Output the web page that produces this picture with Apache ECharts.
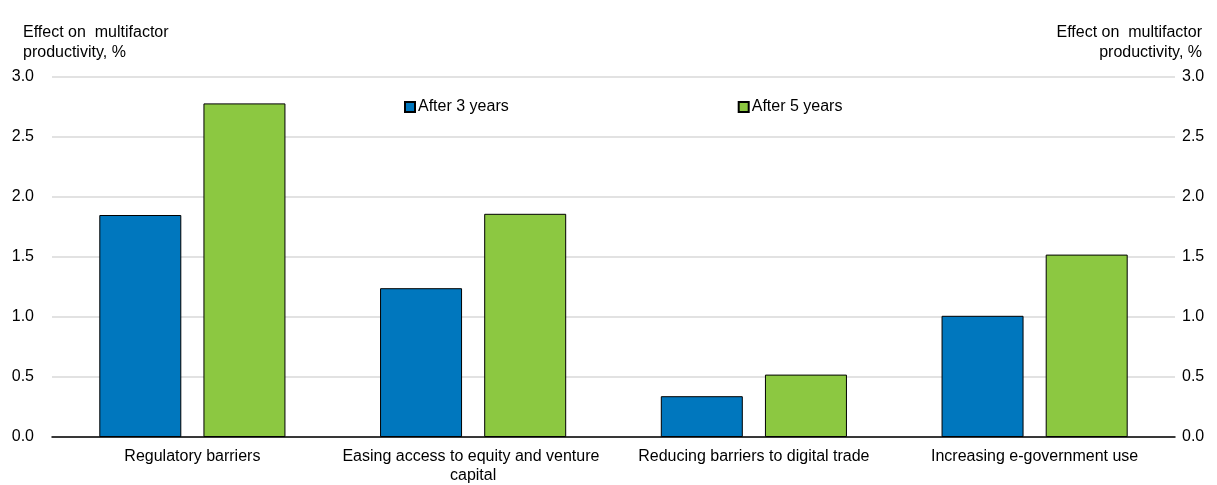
<!DOCTYPE html>
<html>
<head>
<meta charset="utf-8">
<script src="https://cdn.jsdelivr.net/npm/echarts@6/dist/echarts.min.js"></script>
<style>html,body{margin:0;padding:0;background:#fff}#c{width:1217px;height:485px}</style>
</head>
<body>
<div id="c"></div>
<script>
var categories = ['Regulatory barriers', 'Easing access to equity and venture capital', 'Reducing barriers to digital trade', 'Increasing e-government use'];
var after3 = [1.85, 1.24, 0.34, 1.01];
var after5 = [2.78, 1.86, 0.52, 1.52];
var seriesNames = ['After 3 years', 'After 5 years'];
var axisTitleLines = ['Effect on  multifactor', 'productivity, %'];
var FONT = '"Liberation Sans", Arial, sans-serif';

var chart = echarts.init(document.getElementById('c'), null, {renderer: 'canvas'});
var yAxisBase = {
  type: 'value', min: 0, max: 3, interval: 0.5,
  axisLine: {show: false}, axisTick: {show: false},
  splitLine: {show: true, lineStyle: {color: '#d9d9d9', width: 1.5}},
  axisLabel: {color: '#000', fontSize: 16, fontFamily: FONT, formatter: function (v) { return v.toFixed(1); }}
};
var graphics = axisTitleLines.map(function (line, i) {
  return {type: 'text', right: 15, top: 25 + i * 20,
    style: {text: line, fontSize: 16, fontFamily: FONT, fill: '#000'}};
});
chart.setOption({
  animation: false,
  backgroundColor: '#fff',
  textStyle: {fontFamily: FONT},
  title: [
    {text: axisTitleLines.join('\n'), left: 18, top: 18, textStyle: {fontSize: 16, fontWeight: 'normal', color: '#000', fontFamily: FONT, lineHeight: 20}}
  ],
  graphic: graphics,
  legend: {
    left: 399, top: 94, itemWidth: 10, itemHeight: 10, itemGap: 229,
    icon: 'rect',
    textStyle: {fontSize: 16, color: '#000', fontFamily: FONT, padding: [0, 0, 0, -2]},
    data: seriesNames
  },
  grid: {left: 52, right: 42, top: 77, bottom: 47, containLabel: false},
  xAxis: {
    type: 'category', data: categories,
    axisLine: {show: true, lineStyle: {color: '#000', width: 1.5}},
    axisTick: {show: false},
    axisLabel: {color: '#000', fontSize: 16, fontFamily: FONT, margin: 10, width: 270, overflow: 'break', lineHeight: 19, interval: 0}
  },
  yAxis: [
    Object.assign({}, yAxisBase, {position: 'left', axisLabel: Object.assign({}, yAxisBase.axisLabel, {margin: 18})}),
    Object.assign({}, yAxisBase, {position: 'right', splitLine: {show: false}, axisLabel: Object.assign({}, yAxisBase.axisLabel, {margin: 7})})
  ],
  series: [
    {name: seriesNames[0], type: 'bar', data: after3, barWidth: 82, barGap: '27%',
     itemStyle: {color: '#0077be', borderColor: '#000', borderWidth: 1}},
    {name: seriesNames[1], type: 'bar', data: after5, barWidth: 82, barGap: '27%',
     itemStyle: {color: '#8cc841', borderColor: '#000', borderWidth: 1}}
  ]
});
</script>
</body>
</html>
